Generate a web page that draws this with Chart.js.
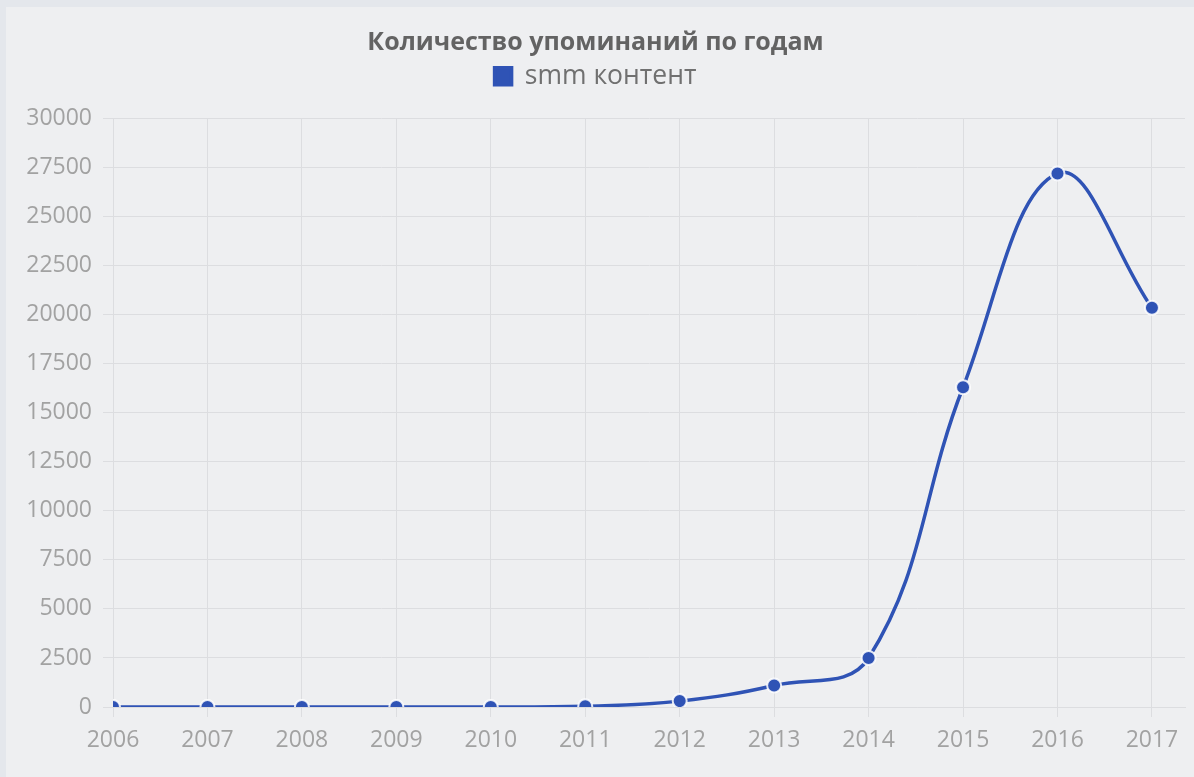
<!DOCTYPE html>
<html>
<head>
<meta charset="utf-8">
<script src="https://cdn.jsdelivr.net/npm/chart.js@4.4.0/dist/chart.umd.min.js"></script>
<style>
    html, body { margin: 0; padding: 0; }
    body { width: 1194px; height: 777px; background: #e4e7ec; overflow: hidden; }
    #panel { position: absolute; left: 6px; top: 7px; width: 1188px; height: 770px; background: #eeeff1; }
</style>
</head>
<body>
<div id="panel"><canvas id="mentionsChart" width="1188" height="770"></canvas></div>
<script>
// Chart data
const years = [2006, 2007, 2008, 2009, 2010, 2011, 2012, 2013, 2014, 2015, 2016, 2017];
const mentions = [0, 0, 0, 0, 0, 40, 300, 1100, 2500, 16300, 27200, 20350];
const yTicks = [0, 2500, 5000, 7500, 10000, 12500, 15000, 17500, 20000, 22500, 25000, 27500, 30000];
const chartTitle = 'Количество упоминаний по годам';
const seriesName = 'smm контент';

const lineColor = '#2f53b5';
const tickColor = '#a2a2a2';
const gridColor = '#dcdde0';

const points = years.map((y, i) => ({ x: y, y: mentions[i] }));

// extra room under the legend, before the plot starts
const legendGap = {
    id: 'legendGap',
    beforeLayout(chart) {
        const lg = chart.legend;
        if (lg && !lg._gapPatched) {
            const fit = lg.fit.bind(lg);
            lg.fit = function () { fit(); this.height += 19; };
            lg._gapPatched = true;
        }
    }
};

const ctx = document.getElementById('mentionsChart').getContext('2d');
new Chart(ctx, {
    type: 'line',
    data: {
        datasets: [{
            label: seriesName,
            data: points,
            borderColor: lineColor,
            backgroundColor: lineColor,
            borderWidth: 3.5,
            tension: 0.4,
            fill: false,
            pointRadius: 7,
            pointBackgroundColor: lineColor,
            pointBorderColor: 'rgba(255,255,255,0.85)',
            pointBorderWidth: 2
        }]
    },
    plugins: [legendGap],
    options: {
        responsive: false,
        animation: false,
        layout: { padding: { left: 0, right: 9, top: 0, bottom: 10 } },
        plugins: {
            title: {
                display: true,
                text: chartTitle,
                color: '#636363',
                font: { family: 'Open Sans', size: 25, weight: 'bold' },
                padding: { top: 21, bottom: 0 }
            },
            legend: {
                display: true,
                labels: {
                    color: '#707070',
                    font: { family: 'Open Sans', size: 26.5 },
                    boxWidth: 17,
                    boxHeight: 17,
                    padding: 5
                }
            },
            tooltip: { enabled: false }
        },
        scales: {
            x: {
                type: 'linear',
                min: years[0],
                max: 2017.35,
                afterBuildTicks: (s) => { s.ticks = years.map(v => ({ value: v })); },
                afterFit: (s) => { s.height = 60; },
                grid: { color: gridColor, tickLength: 10 },
                border: { color: gridColor },
                ticks: {
                    color: tickColor,
                    font: { family: 'Open Sans', size: 23 },
                    padding: 10,
                    maxRotation: 0,
                    callback: (v) => String(v)
                }
            },
            y: {
                min: 0,
                max: 30000,
                afterBuildTicks: (s) => { s.ticks = yTicks.map(v => ({ value: v })); },
                afterFit: (s) => { s.width = 107; },
                grid: { color: gridColor, tickLength: 10 },
                border: { color: gridColor },
                ticks: {
                    color: tickColor,
                    font: { family: 'Open Sans', size: 23 },
                    padding: 11,
                    callback: (v) => String(v)
                }
            }
        }
    }
});
</script>
</body>
</html>
